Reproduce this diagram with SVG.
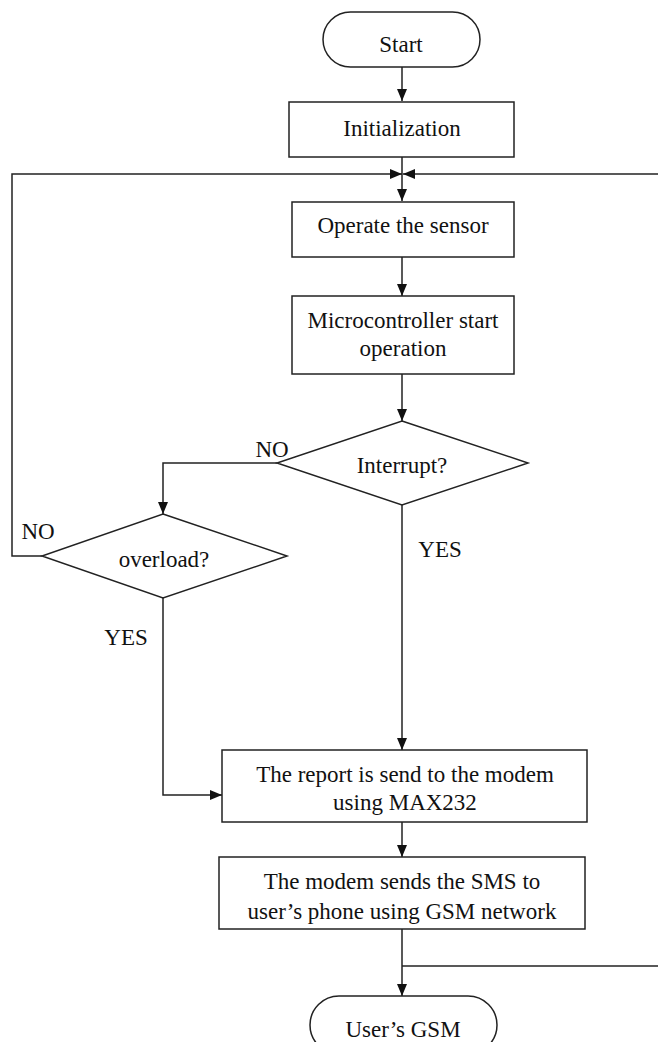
<svg xmlns="http://www.w3.org/2000/svg" width="658" height="1042" viewBox="0 0 658 1042">
<style>
.shape{fill:#fff;stroke:#222;stroke-width:1.5}
.line{fill:none;stroke:#222;stroke-width:1.5}
text{font-family:"Liberation Serif","Times New Roman",serif;font-size:23px;fill:#111;text-anchor:middle}
</style>
<defs>
<marker id="arr" viewBox="0 0 12 12" refX="12" refY="6" markerWidth="12" markerHeight="12" markerUnits="userSpaceOnUse" orient="auto">
<path d="M0,1 L12,6 L0,11 Z" fill="#111"/>
</marker>
</defs>
<rect width="658" height="1042" fill="#fff"/>
<g id="connectors">
<line class="line" x1="402" y1="67" x2="402" y2="101" marker-end="url(#arr)"/>
<line class="line" x1="402" y1="157" x2="402" y2="201" marker-end="url(#arr)"/>
<polyline class="line" points="42,556 12,556 12,174 402,174" marker-end="url(#arr)"/>
<line class="line" x1="658" y1="174" x2="403" y2="174" marker-end="url(#arr)"/>
<line class="line" x1="402" y1="257" x2="402" y2="296" marker-end="url(#arr)"/>
<line class="line" x1="402" y1="374" x2="402" y2="421" marker-end="url(#arr)"/>
<polyline class="line" points="277,463 163,463 163,514" marker-end="url(#arr)"/>
<line class="line" x1="402" y1="505" x2="402" y2="750" marker-end="url(#arr)"/>
<polyline class="line" points="163,598 163,795 222,795" marker-end="url(#arr)"/>
<line class="line" x1="402" y1="822" x2="402" y2="857" marker-end="url(#arr)"/>
<line class="line" x1="402" y1="929" x2="402" y2="996" marker-end="url(#arr)"/>
<line class="line" x1="402" y1="966" x2="658" y2="966"/>
<text x="272" y="457">NO</text>
<text x="38" y="539">NO</text>
<text x="440" y="557">YES</text>
<text x="126" y="645">YES</text>
</g>
<g id="start">
<rect class="shape" x="323" y="12" width="157" height="55" rx="27.5"/>
<text x="401" y="52">Start</text>
</g>
<g id="init">
<rect class="shape" x="289" y="102" width="225" height="55"/>
<text x="402" y="136">Initialization</text>
</g>
<g id="operate">
<rect class="shape" x="292" y="202" width="222" height="55"/>
<text x="403" y="233">Operate the sensor</text>
</g>
<g id="micro">
<rect class="shape" x="292" y="296" width="222" height="78"/>
<text x="403" y="328">Microcontroller start</text>
<text x="403" y="356">operation</text>
</g>
<g id="interrupt">
<polygon class="shape" points="402,421 528,463 402,505 277,463"/>
<text x="402" y="473">Interrupt?</text>
</g>
<g id="overload">
<polygon class="shape" points="163,514 287,556 163,598 42,556"/>
<text x="164" y="567">overload?</text>
</g>
<g id="report">
<rect class="shape" x="222" y="750" width="365" height="72"/>
<text x="405" y="782">The report is send to the modem</text>
<text x="405" y="810">using MAX232</text>
</g>
<g id="sms">
<rect class="shape" x="219" y="857" width="366" height="72"/>
<text x="402" y="889">The modem sends the SMS to</text>
<text x="402" y="919">user’s phone using GSM network</text>
</g>
<g id="usergsm">
<rect class="shape" x="310" y="996" width="187" height="58" rx="29"/>
<text x="403" y="1037">User’s GSM</text>
</g>
</svg>
